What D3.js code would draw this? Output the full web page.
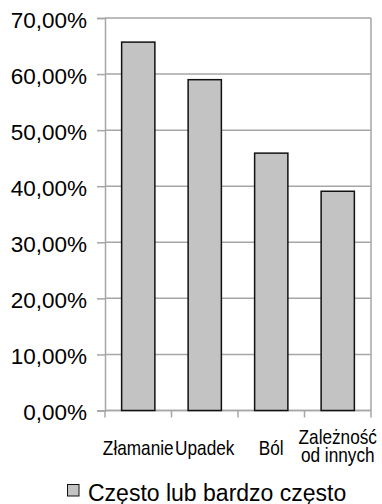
<!DOCTYPE html>
<html>
<head>
<meta charset="utf-8">
<script src="https://cdn.jsdelivr.net/npm/d3@7"></script>
<style>
  body { margin: 0; background: #fff; }
  text { font-family: "Liberation Sans", Arial, sans-serif; fill: #000; }
</style>
</head>
<body>
<div id="graphic"></div>
<script>
const width = 382;
const height = 504;

// data
const categories = ['Złamanie', 'Upadek', 'Ból', 'Zależność\nod innych'];
const values = [65.7, 59.0, 45.9, 39.1];
const yTicks = [0, 10, 20, 30, 40, 50, 60, 70];
const seriesName = 'Często lub bardzo często';

const margin = {top: 18, right: 11, bottom: 93.5, left: 105};
const gridColor = '#a6a6a6';

const svg = d3.select('#graphic')
    .append('svg')
    .attr('width', width)
    .attr('height', height);

const scaleX = d3.scaleBand()
    .domain(categories)
    .range([margin.left, width - margin.right])
    .paddingInner(0.5)
    .paddingOuter(0.25);

const scaleY = d3.scaleLinear()
    .domain([0, 70])
    .range([height - margin.bottom, margin.top]);

// grid
svg.append('g')
    .selectAll('line')
    .data(yTicks)
    .enter()
    .append('line')
    .attr('x1', margin.left)
    .attr('x2', width - margin.right)
    .attr('y1', d => scaleY(d))
    .attr('y2', d => scaleY(d))
    .attr('stroke', gridColor)
    .attr('stroke-width', 1.5);

// right border of plot
svg.append('line')
    .attr('x1', width - margin.right).attr('x2', width - margin.right)
    .attr('y1', margin.top).attr('y2', height - margin.bottom)
    .attr('stroke', gridColor).attr('stroke-width', 1.5);

// y axis
const axisY = d3.axisLeft(scaleY)
    .tickValues(yTicks)
    .tickSize(8)
    .tickPadding(10)
    .tickFormat(d => d.toFixed(2).replace('.', ',') + '%');

const gy = svg.append('g')
    .attr('transform', `translate(${margin.left},0)`)
    .call(axisY);
gy.select('.domain').attr('stroke', gridColor).attr('stroke-width', 1.5);
gy.selectAll('.tick line').attr('stroke', gridColor).attr('stroke-width', 1.5);
gy.selectAll('.tick text')
    .attr('font-size', 22.5)
    .attr('dy', '0.42em')
    .attr('font-family', '"Liberation Sans", Arial, sans-serif')
    .attr('fill', '#111');

// x axis (ticks between categories)
const xTickPos = d3.range(categories.length + 1)
    .map(i => margin.left + i * (width - margin.right - margin.left) / categories.length);
svg.append('line')
    .attr('x1', margin.left).attr('x2', width - margin.right)
    .attr('y1', scaleY(0)).attr('y2', scaleY(0))
    .attr('stroke', gridColor).attr('stroke-width', 1.5);
svg.append('g')
    .selectAll('line')
    .data(xTickPos)
    .enter()
    .append('line')
    .attr('x1', d => d).attr('x2', d => d)
    .attr('y1', scaleY(0)).attr('y2', scaleY(0) + 7)
    .attr('stroke', gridColor).attr('stroke-width', 1.5);

// bars
svg.append('g')
    .selectAll('rect')
    .data(values)
    .enter()
    .append('rect')
    .attr('x', (d, i) => scaleX(categories[i]))
    .attr('y', d => scaleY(d))
    .attr('width', scaleX.bandwidth())
    .attr('height', d => scaleY(0) - scaleY(d))
    .attr('fill', '#c3c3c3')
    .attr('stroke', '#111')
    .attr('stroke-width', 1.5);

// category labels (narrow look)
const cat = svg.append('g');
categories.forEach(c => {
    const lines = c.split('\n');
    const cx = scaleX(c) + scaleX.bandwidth() / 2;
    const t = cat.append('text')
        .attr('text-anchor', 'middle')
        .attr('font-size', 21)
        .attr('transform', `translate(${cx},${lines.length > 1 ? 443.5 : 455}) scale(0.82,1)`);
    lines.forEach((l, j) => {
        t.append('tspan')
            .attr('x', 0)
            .attr('dy', j === 0 ? 0 : 19)
            .text(l);
    });
});

// legend
const legend = svg.append('g');
legend.append('rect')
    .attr('x', 67.5).attr('y', 484.5)
    .attr('width', 11.5).attr('height', 11.5)
    .attr('fill', '#c3c3c3')
    .attr('stroke', '#111')
    .attr('stroke-width', 1);
legend.append('text')
    .attr('x', 88).attr('y', 500.5)
    .attr('font-size', 23)
    .text(seriesName);
</script>
</body>
</html>
